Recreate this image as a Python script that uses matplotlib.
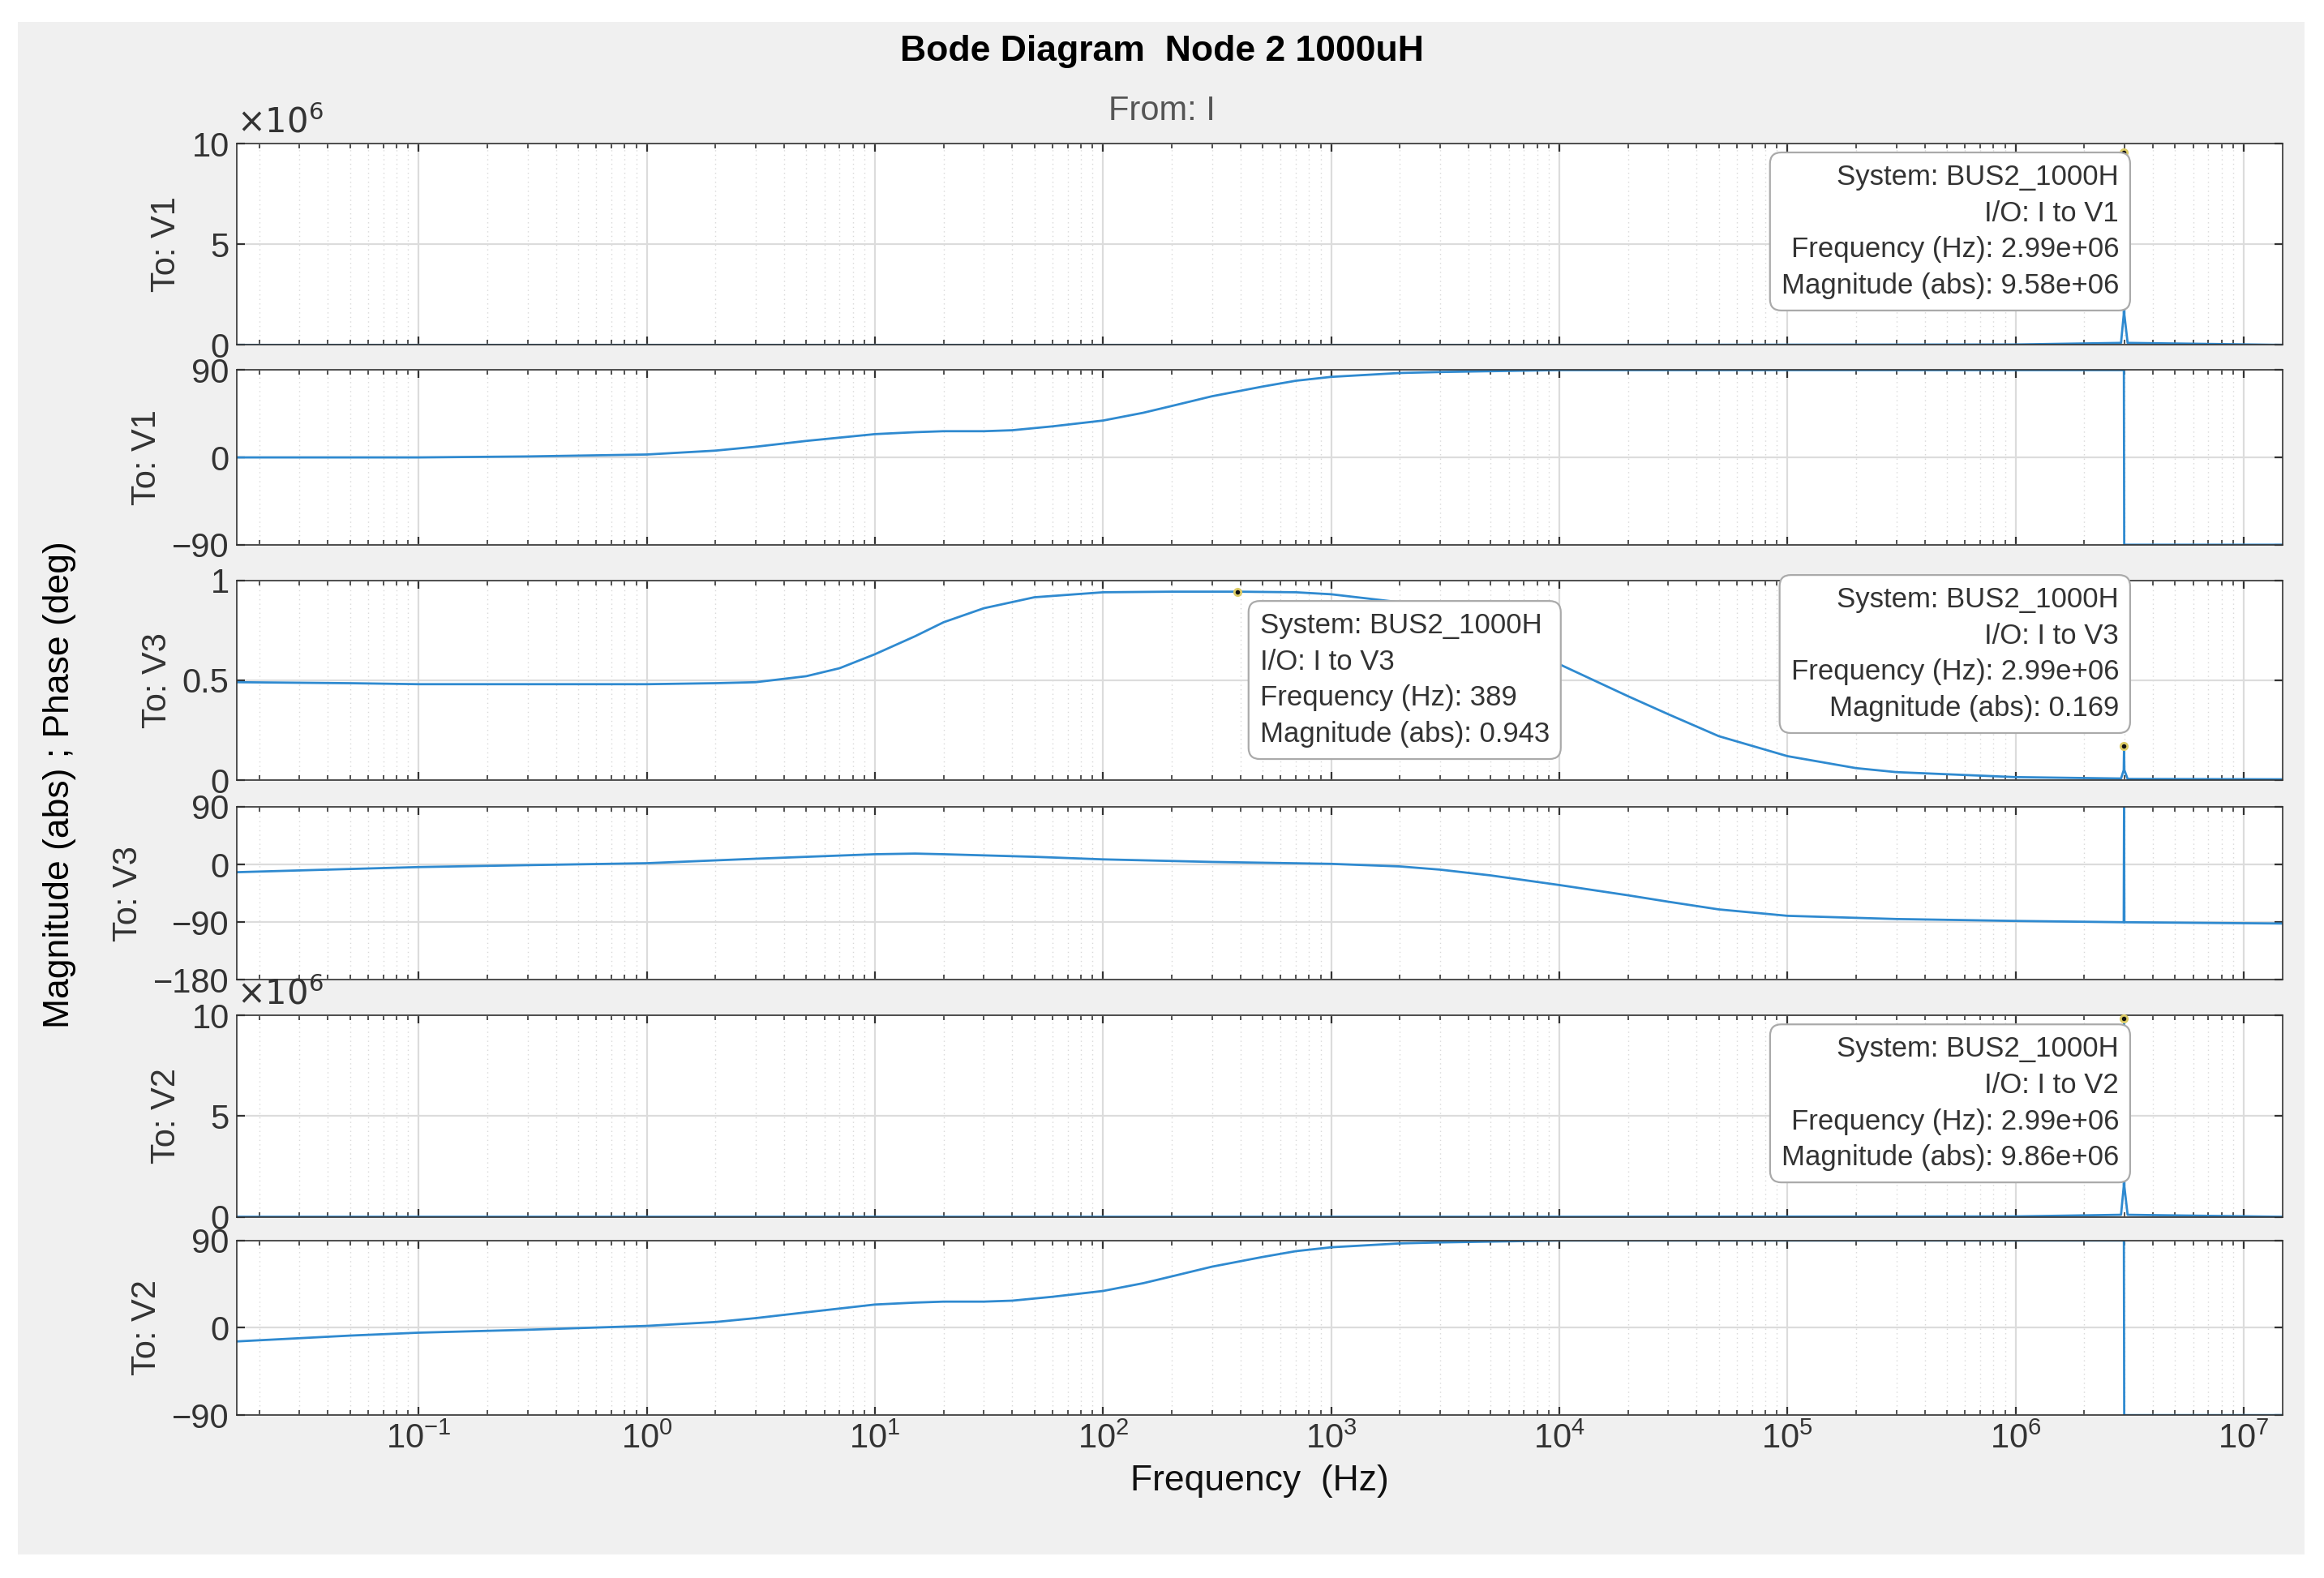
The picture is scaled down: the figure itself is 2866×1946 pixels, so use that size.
import matplotlib
matplotlib.use('Agg')
import matplotlib.pyplot as plt
from matplotlib.patches import Rectangle
import matplotlib.ticker as mt

plt.rcParams['font.family'] = ['Liberation Sans', 'DejaVu Sans']

# data ------------------------------------------------------------
f_pk = [0.016, 1.0, 100.0, 1e4, 1e6, 2.9e6, 2.98e6, 2.99e6, 3.0e6, 3.1e6, 1.48e7]
mag_v1 = [0.0, 0.0, 0.0, 0.0, 0.02e6, 0.1e6, 1.5e6, 9.58e6, 1.5e6, 0.1e6, 0.0]
mag_v2 = [0.0, 0.0, 0.0, 0.0, 0.02e6, 0.1e6, 1.5e6, 9.86e6, 1.5e6, 0.1e6, 0.0]

f_ph = [0.016, 0.05, 0.1, 0.3, 1, 2, 3, 5, 10, 15, 20, 30, 40, 60, 100, 150, 200, 300, 500, 700,
        1000, 2000, 3000, 1e4, 1e5, 1e6, 2.985e6, 2.995e6, 1.48e7]
ph_v1 = [0, 0, 0, 1, 3, 7, 11, 17, 24, 26, 27, 27, 28, 32, 38, 46, 53, 63, 73, 79,
         83, 87, 88, 90, 90, 90, 90, -90, -90]
ph_v2 = [-14, -8, -5, -2, 2, 6, 10, 16, 24, 26, 27, 27, 28, 32, 38, 46, 53, 63, 73, 79,
         83, 87, 88, 90, 90, 90, 90, -90, -90]

f_v3 = [0.016, 0.05, 0.1, 0.3, 1, 2, 3, 5, 7, 10, 15, 20, 30, 50, 100, 200, 389, 700, 1000, 2000,
        3000, 5000, 7000, 1e4, 2e4, 3e4, 5e4, 1e5, 2e5, 3e5, 1e6, 2.9e6, 2.98e6, 2.99e6, 3.0e6, 3.1e6, 1.48e7]
mag_v3 = [0.49, 0.485, 0.48, 0.48, 0.48, 0.485, 0.49, 0.52, 0.56, 0.63, 0.72, 0.79, 0.86, 0.915, 0.94,
          0.943, 0.943, 0.94, 0.93, 0.89, 0.84, 0.75, 0.68, 0.58, 0.42, 0.33, 0.22, 0.12, 0.06, 0.04,
          0.015, 0.008, 0.05, 0.169, 0.05, 0.006, 0.004]
f_v3p = [0.016, 0.05, 0.1, 0.3, 1, 3, 10, 15, 20, 50, 100, 300, 1000, 2000, 3000, 5000, 1e4, 2e4, 3e4,
         5e4, 1e5, 3e5, 1e6, 2.98e6, 2.99e6, 3.0e6, 1.48e7]
ph_v3 = [-12, -7, -4, -1, 2, 9, 16, 17, 16, 12, 8, 4, 1, -3, -8, -17, -32, -48, -58, -70, -80, -85, -88,
         -90, 90, -90, -92]

ylabels = ['To: V1', 'To: V1', 'To: V3', 'To: V3', 'To: V2', 'To: V2']
# -----------------------------------------------------------------

W, H = 1568.0, 1066.0
fig = plt.figure(figsize=(14.33, 9.73), dpi=200, facecolor='white')
fig.patches.append(Rectangle((12 / W, 1 - 1050 / H), 1543 / W, 1035 / H, transform=fig.transFigure,
                             facecolor='#f0f0f0', edgecolor='none', zorder=-10))

tops = [97, 250, 392, 545, 686, 838]
bots = [233, 368, 527, 662, 822, 956]
col = '#2f8ad0'
axes = []
for t, b in zip(tops, bots):
    ax = fig.add_axes([160 / W, 1 - b / H, 1380 / W, (b - t) / H])
    ax.set_xscale('log')
    ax.set_xlim(0.016, 1.48e7)
    ax.set_facecolor('white')
    ax.xaxis.set_major_locator(mt.LogLocator(base=10, numticks=20))
    ax.xaxis.set_minor_locator(mt.LogLocator(base=10, subs=range(2, 10), numticks=200))
    ax.grid(True, which='major', color='#dcdcdc', lw=0.8)
    ax.grid(True, which='minor', axis='x', color='#d8d8d8', lw=0.5, ls=(0, (1, 3)))
    ax.tick_params(which='both', direction='in', top=True, right=True, labelsize=15, colors='#333333')
    ax.tick_params(labelbottom=False)
    for s in ax.spines.values():
        s.set_color('#333333')
        s.set_linewidth(0.6)
    axes.append(ax)

axes[0].plot(f_pk, mag_v1, color=col, lw=1)
axes[1].plot(f_ph, ph_v1, color=col, lw=1)
axes[2].plot(f_v3, mag_v3, color=col, lw=1)
axes[3].plot(f_v3p, ph_v3, color=col, lw=1)
axes[4].plot(f_pk, mag_v2, color=col, lw=1)
axes[5].plot(f_ph, ph_v2, color=col, lw=1)

for ax in (axes[0], axes[4]):
    ax.set_ylim(0, 1e7)
    ax.set_yticks([0, 5e6, 1e7])
    ax.set_yticklabels(['0', '5', '10'])
    ax.text(0, 1.02, r'$\times10^6$', transform=ax.transAxes, fontsize=15, color='#333333', va='bottom')
for ax in (axes[1], axes[5]):
    ax.set_ylim(-90, 90)
    ax.set_yticks([-90, 0, 90])
axes[2].set_ylim(0, 1)
axes[2].set_yticks([0, 0.5, 1])
axes[2].set_yticklabels(['0', '0.5', '1'])
axes[3].set_ylim(-180, 90)
axes[3].set_yticks([-180, -90, 0, 90])

for ax, lab in zip(axes, ylabels):
    ax.set_ylabel(lab, fontsize=15, color='#333333', labelpad=4)

axes[5].tick_params(labelbottom=True, labelsize=15)
axes[5].set_xlabel('Frequency  (Hz)', fontsize=16, color='#111111')

fig.text(0.5, 1 - 35 / H, 'Bode Diagram  Node 2 1000uH', ha='center', va='center', fontsize=16, fontweight='bold')
fig.text(0.5, 1 - 75 / H, 'From: I', ha='center', va='center', fontsize=15, color='#555555')
fig.text(40 / W, 1 - 530 / H, 'Magnitude (abs) ; Phase (deg)', rotation=90, ha='center', va='center', fontsize=16)

bbox = dict(boxstyle='round,pad=0.4', fc='white', ec='#aaaaaa', lw=0.8)


def tip(ax, x, y, txt, tx, ty, ha):
    ax.plot([x], [y], 'o', ms=3, color='#111111', mec='#ddcc66', zorder=5, clip_on=False)
    ax.text(tx, ty, txt, transform=ax.transAxes, ha=ha, va='top', fontsize=12.5, color='#333333',
            bbox=bbox, linespacing=1.45, zorder=6, multialignment=ha)


tip(axes[0], 2.99e6, 9.58e6, 'System: BUS2_1000H\nI/O: I to V1\nFrequency (Hz): 2.99e+06\nMagnitude (abs): 9.58e+06',
    0.92, 0.9, 'right')
tip(axes[2], 389, 0.943, 'System: BUS2_1000H\nI/O: I to V3\nFrequency (Hz): 389\nMagnitude (abs): 0.943',
    0.5, 0.84, 'left')
tip(axes[2], 2.99e6, 0.169, 'System: BUS2_1000H\nI/O: I to V3\nFrequency (Hz): 2.99e+06\nMagnitude (abs): 0.169',
    0.92, 0.97, 'right')
tip(axes[4], 2.99e6, 9.86e6, 'System: BUS2_1000H\nI/O: I to V2\nFrequency (Hz): 2.99e+06\nMagnitude (abs): 9.86e+06',
    0.92, 0.9, 'right')

fig.savefig('out.png', dpi=200, facecolor=fig.get_facecolor())
